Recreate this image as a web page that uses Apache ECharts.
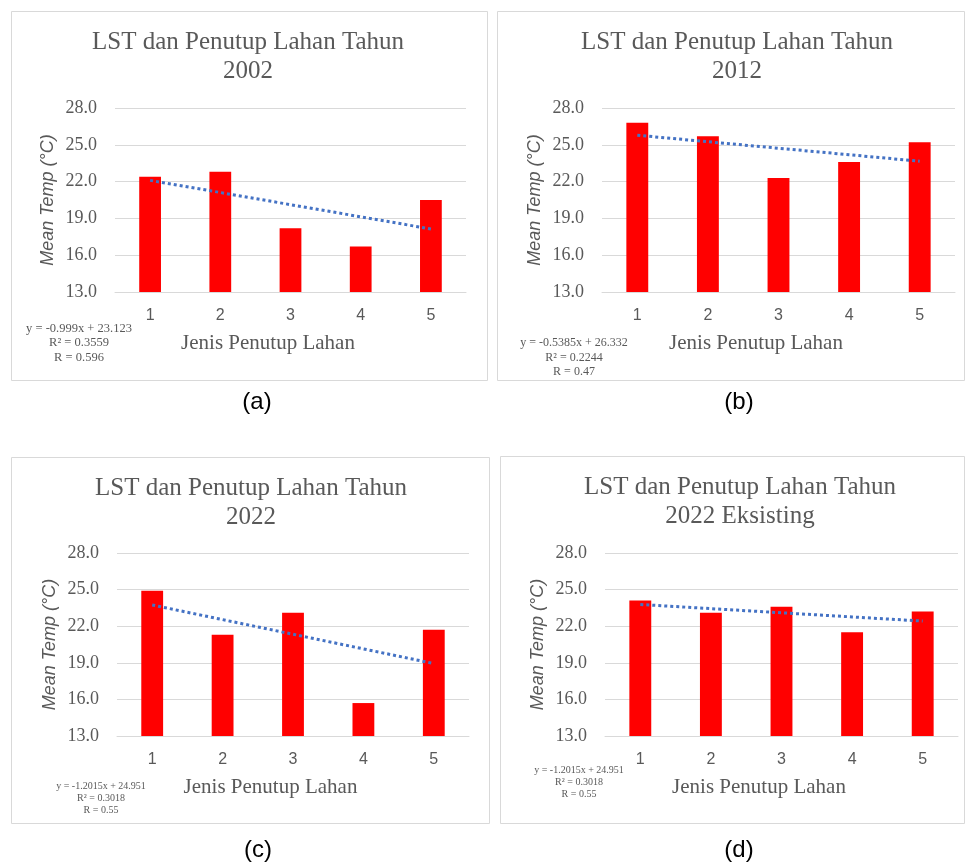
<!DOCTYPE html>
<html>
<head>
<meta charset="utf-8">
<script src="https://cdn.jsdelivr.net/npm/echarts@6/dist/echarts.min.js"></script>
<style>
  html, body { margin: 0; padding: 0; background: #ffffff; }
  #chart { width: 965px; height: 863px; }
</style>
</head>
<body>
<div id="chart"></div>
<script>
// Land cover classes (Jenis Penutup Lahan) and mean land surface temperature per year
const categories = ['1', '2', '3', '4', '5'];
const temp2002 = [22.4, 22.8, 18.2, 16.7, 20.5];
const temp2012 = [26.8, 25.7, 22.3, 23.6, 25.2];
const temp2022 = [24.9, 21.3, 23.1, 15.7, 21.7];
const temp2022Eksisting = [24.1, 23.1, 23.6, 21.5, 23.2];

// Value axis ticks: 13.0 to 28.0 every 3.0
const yMin = 13;
const yMax = 28;
const yStep = 3;

const chartTitles = [
  'LST dan Penutup Lahan Tahun\n2002',
  'LST dan Penutup Lahan Tahun\n2012',
  'LST dan Penutup Lahan Tahun\n2022',
  'LST dan Penutup Lahan Tahun\n2022 Eksisting'
];
const panelTags = ['(a)', '(b)', '(c)', '(d)'];
const equationTexts = [
  'y = -0.999x + 23.123\nR² = 0.3559\nR = 0.596',
  'y = -0.5385x + 26.332\nR² = 0.2244\nR = 0.47',
  'y = -1.2015x + 24.951\nR² = 0.3018\nR = 0.55',
  'y = -1.2015x + 24.951\nR² = 0.3018\nR = 0.55'
];
const xAxisTitle = 'Jenis Penutup Lahan';
const yAxisTitle = 'Mean Temp (°C)';

const seriesValues = [temp2002, temp2012, temp2022, temp2022Eksisting];

// Panel geometry (frame, plot area, text anchors)
const panels = [
  { box: [11, 11, 476, 369],  grid: [115, 108, 351, 184], titleX: 248, tag: [257, 402], eq: [79, 321],  eqSize: 12.5, eqLh: 14.5 },
  { box: [497, 11, 467, 369], grid: [602, 108, 353, 184], titleX: 737, tag: [739, 402], eq: [574, 336], eqSize: 12,   eqLh: 14.5 },
  { box: [11, 457, 478, 366], grid: [117, 553, 352, 183], titleX: 251, tag: [258, 850], eq: [101, 781], eqSize: 10,   eqLh: 11.7 },
  { box: [500, 456, 464, 367], grid: [605, 553, 353, 183], titleX: 740, tag: [739, 850], eq: [579, 765], eqSize: 10,   eqLh: 11.7 }
];

// Ordinary least-squares linear trend evaluated at each category position (x = 1..n)
function linearTrend(values) {
  const n = values.length;
  let sx = 0, sy = 0, sxx = 0, sxy = 0;
  values.forEach((v, i) => {
    const x = i + 1;
    sx += x; sy += v; sxx += x * x; sxy += x * v;
  });
  const slope = (n * sxy - sx * sy) / (n * sxx - sx * sx);
  const intercept = (sy - slope * sx) / n;
  return values.map((_, i) => +(slope * (i + 1) + intercept).toFixed(4));
}

const GRAY_TEXT = '#595959';
const GRID_LINE = '#d9d9d9';
const SERIF = '"Liberation Serif", "DejaVu Serif", serif';
const SANS = '"Liberation Sans", "DejaVu Sans", sans-serif';

const grids = [], xAxes = [], yAxes = [], series = [], graphics = [];

panels.forEach((p, i) => {
  const [gl, gt, gw, gh] = p.grid;
  grids.push({ left: gl, top: gt, width: gw, height: gh, containLabel: false });

  xAxes.push({
    type: 'category',
    gridIndex: i,
    data: categories,
    boundaryGap: true,
    axisTick: { show: false },
    axisLine: { show: true, lineStyle: { color: GRID_LINE, width: 1 } },
    axisLabel: { color: GRAY_TEXT, fontFamily: SANS, fontSize: 16, margin: 16 },
    name: xAxisTitle,
    nameLocation: 'middle',
    nameGap: 41,
    nameTextStyle: { color: GRAY_TEXT, fontFamily: SERIF, fontSize: 21, padding: [0, 45, 0, 0] }
  });

  yAxes.push({
    type: 'value',
    gridIndex: i,
    min: yMin,
    max: yMax,
    interval: yStep,
    axisLine: { show: false },
    axisTick: { show: false },
    splitLine: { show: true, lineStyle: { color: GRID_LINE, width: 1 } },
    axisLabel: {
      color: GRAY_TEXT, fontFamily: SERIF, fontSize: 18, margin: 18,
      formatter: v => v.toFixed(1)
    },
    name: yAxisTitle,
    nameLocation: 'middle',
    nameGap: 58,
    nameTextStyle: { color: GRAY_TEXT, fontFamily: SANS, fontSize: 18, fontStyle: 'italic' }
  });

  series.push({
    type: 'bar',
    xAxisIndex: i,
    yAxisIndex: i,
    data: seriesValues[i],
    barWidth: '31%',
    itemStyle: { color: '#ff0000' },
    silent: true,
    z: 2
  });

  series.push({
    type: 'line',
    xAxisIndex: i,
    yAxisIndex: i,
    data: linearTrend(seriesValues[i]),
    symbol: 'none',
    lineStyle: { color: '#4472c4', width: 3, type: [3, 3], cap: 'butt' },
    silent: true,
    z: 3
  });

  // Panel frame
  graphics.push({
    type: 'rect',
    shape: { x: p.box[0] + 0.5, y: p.box[1] + 0.5, width: p.box[2], height: p.box[3] },
    style: { fill: null, stroke: GRID_LINE, lineWidth: 1 },
    silent: true
  });

  // Chart title
  graphics.push({
    type: 'text',
    x: p.titleX,
    y: p.box[1] + 17,
    style: {
      text: chartTitles[i], align: 'center', verticalAlign: 'top',
      fontFamily: SERIF, fontSize: 25, lineHeight: 29, fill: GRAY_TEXT
    },
    silent: true
  });

  // Trend line equation
  graphics.push({
    type: 'text',
    x: p.eq[0],
    y: p.eq[1],
    style: {
      text: equationTexts[i], align: 'center', verticalAlign: 'top',
      fontFamily: SERIF, fontSize: p.eqSize, lineHeight: p.eqLh, fill: GRAY_TEXT
    },
    silent: true
  });

  // Panel tag
  graphics.push({
    type: 'text',
    x: p.tag[0],
    y: p.tag[1],
    style: {
      text: panelTags[i], align: 'center', verticalAlign: 'middle',
      fontFamily: SANS, fontSize: 24, fill: '#000000'
    },
    silent: true
  });
});

const chart = echarts.init(document.getElementById('chart'), null, { renderer: 'canvas' });
chart.setOption({
  backgroundColor: '#ffffff',
  animation: false,
  grid: grids,
  xAxis: xAxes,
  yAxis: yAxes,
  series: series,
  graphic: graphics
});
</script>
</body>
</html>
